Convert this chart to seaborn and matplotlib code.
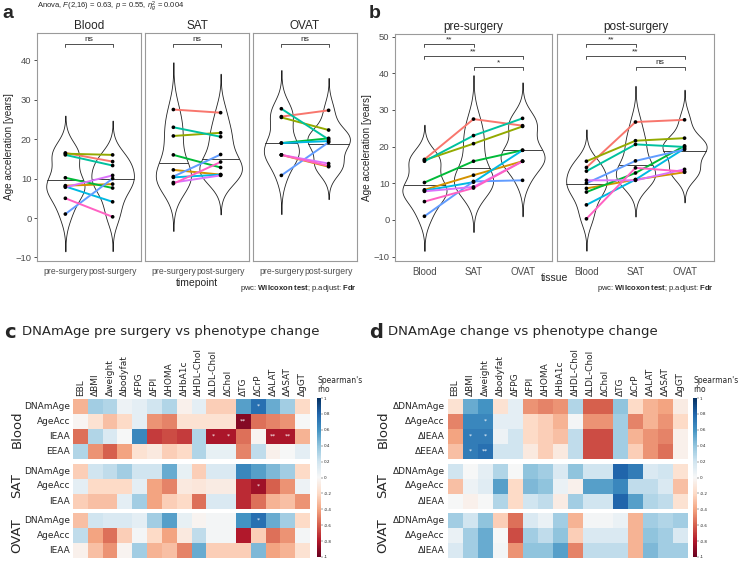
import numpy as np
import pandas as pd
import matplotlib
matplotlib.use("Agg")
import matplotlib.pyplot as plt
import seaborn as sns

W, H = 738, 561

# ---- panel a/b data: 9 subjects, ggplot default hue colours ----
subjects = ["S1", "S2", "S3", "S4", "S5", "S6", "S7", "S8", "S9"]
subject_colors = ["#F8766D", "#D39200", "#93AA00", "#00BA38", "#00C19F",
                  "#00B9E3", "#619CFF", "#DB72FB", "#FF61C3"]
tissues = ["Blood", "SAT", "OVAT"]
timepoints = ["pre-surgery", "post-surgery"]

blood_pre = [16.5, 8.2, 16.3, 10.2, 16.0, 8.0, 1.0, 7.8, 5.0]
blood_post = [14.3, 8.6, 16.0, 7.6, 13.3, 4.1, 10.0, 10.8, 0.3]
sat_pre = [27.5, 12.2, 20.8, 16.0, 23.0, 10.3, 10.5, 9.0, 8.7]
sat_post = [26.7, 11.0, 21.6, 12.8, 20.6, 11.0, 16.1, 10.8, 14.2]
ovat_pre = [25.7, 16.0, 25.5, 19.0, 27.7, 19.0, 10.8, 16.0, 16.0]
ovat_post = [27.3, 13.0, 22.3, 20.2, 19.9, 19.5, 19.2, 13.8, 13.2]

pairs_a = ["ns", "ns", "ns"]
pairs_b_pre = ["**", "**", "*"]
pairs_b_post = ["**", "**", "ns"]

# ---- panel c/d data: spearman rho ----
phenotypes = ["EBL", "ΔBMI", "Δweight", "Δbodyfat", "ΔFPG", "ΔFPI", "ΔHOMA",
              "ΔHbA1c", "ΔHDL-Chol", "ΔLDL-Chol", "ΔChol", "ΔTG", "ΔCrP",
              "ΔALAT", "ΔASAT", "ΔgGT"]
groups = ["Blood", "SAT", "OVAT"]
c_rows = [["DNAmAge", "AgeAcc", "IEAA", "EEAA"],
          ["DNAmAge", "AgeAcc", "IEAA"],
          ["DNAmAge", "AgeAcc", "IEAA"]]
d_rows = [["ΔDNAmAge", "ΔAgeAcc", "ΔIEAA", "ΔEEAA"],
          ["ΔDNAmAge", "ΔAgeAcc", "ΔIEAA"],
          ["ΔDNAmAge", "ΔAgeAcc", "ΔIEAA"]]

c_blood = [
    [-0.35, 0.35, 0.3, 0.05, 0.1, 0.2, 0.3, -0.05, 0.1, -0.25, -0.25, 0.55, 0.75, 0.5, 0.35, -0.2],
    [-0.02, -0.15, -0.3, -0.2, 0.1, -0.45, -0.5, -0.15, -0.15, -0.15, -0.15, -0.92, -0.55, -0.5, -0.45, 0.0],
    [-0.55, 0.3, 0.15, 0.0, 0.65, -0.7, -0.65, -0.7, 0.3, -0.82, -0.82, -0.55, -0.03, -0.82, -0.82, -0.35],
    [0.3, -0.45, -0.6, -0.4, -0.15, -0.1, -0.25, -0.2, 0.3, 0.08, 0.08, -0.5, 0.25, -0.05, 0.0, 0.1],
]
c_sat = [
    [-0.25, 0.2, 0.25, 0.35, 0.2, 0.2, 0.5, 0.08, -0.25, 0.15, 0.15, 0.65, 0.55, 0.45, 0.35, -0.2],
    [0.1, -0.2, -0.2, -0.2, 0.1, -0.4, -0.5, -0.1, -0.12, -0.08, -0.08, -0.75, -0.85, -0.6, -0.45, 0.05],
    [-0.25, -0.3, -0.3, 0.1, 0.35, -0.4, -0.25, -0.2, -0.55, 0.15, 0.15, -0.75, -0.55, -0.35, -0.3, -0.45],
]
c_ovat = [
    [-0.3, 0.2, 0.15, 0.15, 0.1, 0.35, 0.55, 0.08, -0.03, 0.02, 0.02, 0.6, 0.75, 0.5, 0.35, -0.2],
    [0.25, -0.4, -0.55, -0.25, 0.02, -0.2, -0.4, -0.1, 0.25, 0.02, 0.02, -0.8, -0.25, -0.55, -0.45, 0.02],
    [-0.05, -0.3, -0.45, -0.03, 0.35, -0.35, -0.3, -0.5, 0.5, -0.25, -0.25, -0.25, 0.45, -0.4, -0.35, -0.15],
]
d_blood = [
    [-0.15, 0.5, 0.6, -0.15, 0.1, -0.45, -0.5, -0.45, 0.3, -0.6, -0.6, 0.4, -0.2, -0.35, -0.4, -0.08],
    [-0.5, 0.65, 0.65, 0.1, 0.1, -0.2, -0.25, -0.35, 0.02, -0.45, -0.45, 0.35, -0.5, -0.35, -0.45, -0.2],
    [-0.4, 0.7, 0.7, 0.05, 0.2, -0.2, -0.25, -0.3, 0.25, -0.65, -0.65, 0.35, -0.35, -0.45, -0.5, -0.05],
    [-0.3, 0.7, 0.75, 0.2, 0.2, -0.1, -0.25, -0.1, 0.25, -0.65, -0.65, 0.35, -0.25, -0.45, -0.55, -0.05],
]
d_sat = [
    [0.2, 0.0, 0.1, 0.3, 0.0, 0.4, 0.35, 0.15, 0.4, 0.2, 0.2, 0.8, 0.7, 0.15, 0.2, -0.15],
    [-0.3, 0.05, 0.12, 0.55, -0.2, 0.45, 0.4, 0.07, -0.05, 0.55, 0.55, 0.65, 0.25, 0.25, 0.15, -0.3],
    [0.0, -0.05, 0.0, 0.3, -0.2, 0.2, 0.25, -0.08, 0.35, 0.2, 0.2, 0.8, 0.55, 0.3, 0.25, -0.15],
]
d_ovat = [
    [0.35, 0.2, 0.4, -0.25, -0.55, 0.15, 0.07, 0.35, -0.35, 0.02, 0.02, 0.07, -0.35, 0.35, 0.3, 0.35],
    [0.07, 0.35, 0.5, 0.0, -0.65, 0.35, 0.25, 0.4, -0.25, 0.15, 0.15, 0.15, -0.35, 0.4, 0.35, 0.15],
    [0.15, 0.35, 0.5, 0.03, -0.45, 0.4, 0.4, 0.55, -0.5, 0.25, 0.25, 0.25, -0.35, 0.45, 0.35, 0.35],
]
c_stars = [("Blood", "DNAmAge", "ΔCrP", "*"), ("Blood", "AgeAcc", "ΔTG", "**"),
           ("Blood", "IEAA", "ΔLDL-Chol", "*"), ("Blood", "IEAA", "ΔChol", "*"),
           ("Blood", "IEAA", "ΔALAT", "**"), ("Blood", "IEAA", "ΔASAT", "**"),
           ("SAT", "AgeAcc", "ΔCrP", "*"), ("OVAT", "DNAmAge", "ΔCrP", "*")]
d_stars = [("Blood", "ΔAgeAcc", "Δweight", "*"), ("Blood", "ΔIEAA", "ΔBMI", "*"),
           ("Blood", "ΔIEAA", "Δweight", "*"), ("Blood", "ΔEEAA", "ΔBMI", "*"),
           ("Blood", "ΔEEAA", "Δweight", "**")]

sns.set_style("white")
plt.rcParams["font.family"] = ["DejaVu Sans"]
plt.rcParams["mathtext.fontset"] = "custom"
plt.rcParams["mathtext.rm"] = "Liberation Sans"
plt.rcParams["mathtext.it"] = "Liberation Sans:italic"
plt.rcParams["mathtext.bf"] = "Liberation Sans:bold"
GG = "Liberation Sans"
GRAY = "#4D4D4D"


def px_axes(fig, x0, y0, x1, y1):
    return fig.add_axes([x0 / W, 1 - y1 / H, (x1 - x0) / W, (y1 - y0) / H])


def kde_median(vals, adjust):
    vals = np.asarray(vals, float)
    bw = vals.std(ddof=1) * len(vals) ** -0.2 * adjust
    grid = np.linspace(vals.min() - 6 * bw, vals.max() + 6 * bw, 4000)
    dens = np.exp(-((grid[:, None] - vals[None, :]) ** 2) / (2 * bw ** 2)).sum(1)
    cdf = np.cumsum(dens) / dens.sum()
    return np.interp(0.5, cdf, grid)


def draw_violins(ax, d, cat, order):
    sns.violinplot(data=d, x=cat, y="value", order=order, ax=ax, color="white",
                   linecolor="#222222", linewidth=0.6, inner=None, cut=3,
                   bw_adjust=0.9, width=0.9, saturation=1)
    for coll in ax.collections:
        verts = coll.get_paths()[0].vertices
        cx = (verts[:, 0].min() + verts[:, 0].max()) / 2
        lvl = order[int(round(cx))]
        med = kde_median(d.loc[d[cat] == lvl, "value"], 0.9)
        right = verts[verts[:, 0] >= cx]
        right = right[np.argsort(right[:, 1])]
        half = np.interp(med, right[:, 1], right[:, 0]) - cx
        ax.plot([cx - half, cx + half], [med, med], color="#222222", lw=0.6)


def draw_pairs(ax, d):
    sns.lineplot(data=d, x="pos", y="value", hue="subject", palette=dict(zip(subjects, subject_colors)),
                 estimator=None, legend=False, lw=1.4, ax=ax)
    sns.scatterplot(data=d, x="pos", y="value", color="black", s=7, legend=False, ax=ax, zorder=4,
                    edgecolor="none")


def bracket(ax, x1, x2, y, label, tick=0.8):
    ax.plot([x1, x1, x2, x2], [y - tick, y, y, y - tick], color="#333333", lw=0.6)
    ax.text((x1 + x2) / 2, y + 0.2, label, ha="center", va="bottom", fontsize=6, family=GG)


def style_facet(ax, title, first, yticks, xsize):
    for s in ax.spines.values():
        s.set_visible(True)
        s.set_color("#9A9A9A")
        s.set_linewidth(0.8)
    ax.set_title(title, fontsize=8.5, pad=3, family=GG)
    ax.set_xlabel("")
    ax.set_ylabel("")
    ax.tick_params(axis="x", length=2.5, width=0.6, color="#333333", labelsize=xsize,
                   labelcolor=GRAY, pad=2)
    for t in ax.get_xticklabels():
        t.set_family(GG)
    if first:
        ax.set_yticks(yticks)
        ax.tick_params(axis="y", length=2.5, width=0.6, color="#333333", labelsize=6.8,
                       labelcolor=GRAY, pad=1.5, left=True)
        for t in ax.get_yticklabels():
            t.set_family(GG)
        ax.set_ylabel("Age acceleration [years]", fontsize=7.2, family=GG, labelpad=1)
    else:
        ax.tick_params(axis="y", left=False, labelleft=False)


values = {("Blood", "pre-surgery"): blood_pre, ("Blood", "post-surgery"): blood_post,
          ("SAT", "pre-surgery"): sat_pre, ("SAT", "post-surgery"): sat_post,
          ("OVAT", "pre-surgery"): ovat_pre, ("OVAT", "post-surgery"): ovat_post}
rows = []
for (tissue, tp), v in values.items():
    for s, x in zip(subjects, v):
        rows.append((s, tissue, tp, x))
df = pd.DataFrame(rows, columns=["subject", "tissue", "timepoint", "value"])

fig = plt.figure(figsize=(W / 100, H / 100), dpi=100)

# ---- panel a ----
for i, tissue in enumerate(tissues):
    ax = px_axes(fig, 37 + i * 108, 33, 141 + i * 108, 261)
    sub = df[df.tissue == tissue].copy()
    sub["pos"] = sub.timepoint.map({t: k for k, t in enumerate(timepoints)})
    draw_violins(ax, sub, "timepoint", timepoints)
    draw_pairs(ax, sub)
    ax.set_xlim(-0.6, 1.6)
    ax.set_ylim(-10.9, 46.9)
    bracket(ax, 0, 1, 44.1, pairs_a[i])
    style_facet(ax, tissue, i == 0, [-10, 0, 10, 20, 30, 40], 6.2)
    if i == 1:
        ax.set_xlabel("timepoint", fontsize=7.5, family=GG, labelpad=1)

fig.text(37 / W, 1 - 6 / H,
         r"Anova, $\mathit{F}$(2,16) = 0.63, $\mathit{p}$ = 0.55, $\eta^2_g$ = 0.004",
         fontsize=5.5, family=GG, va="center")
fig.text(357 / W, 1 - 288 / H, r"pwc: $\mathbf{Wilcoxon\ test}$; p.adjust: $\mathbf{Fdr}$",
         fontsize=5.5, family=GG, ha="right", va="center")

# ---- panel b ----
for i, tp in enumerate(timepoints):
    ax = px_axes(fig, 395 + i * 162, 34, 552 + i * 162, 261)
    sub = df[df.timepoint == tp].copy()
    sub["pos"] = sub.tissue.map({t: k for k, t in enumerate(tissues)})
    draw_violins(ax, sub, "tissue", tissues)
    draw_pairs(ax, sub)
    ax.set_xlim(-0.6, 2.6)
    ax.set_ylim(-11.2, 50.7)
    labs = pairs_b_pre if i == 0 else pairs_b_post
    bracket(ax, 0, 1, 48.0, labs[0])
    bracket(ax, 0, 2, 44.8, labs[1])
    bracket(ax, 1, 2, 41.8, labs[2])
    style_facet(ax, tp, i == 0, [-10, 0, 10, 20, 30, 40, 50], 7)

fig.text(555 / W, 1 - 278 / H, "tissue", fontsize=7.5, family=GG, ha="center", va="center")
fig.text(714 / W, 1 - 288 / H, r"pwc: $\mathbf{Wilcoxon\ test}$; p.adjust: $\mathbf{Fdr}$",
         fontsize=5.5, family=GG, ha="right", va="center")

fig.text(2 / W, 1 - 14 / H, "a", fontsize=14, fontweight="bold", family=GG, va="center")
fig.text(369 / W, 1 - 14 / H, "b", fontsize=14, fontweight="bold", family=GG, va="center")


# ---- panels c and d ----
def heat_panel(x0, x1, mats, row_sets, stars, cax_x, grp_x):
    tops = [399, 463.5, 513]
    cax = px_axes(fig, cax_x, 398, cax_x + 4, 557)
    for k, (grp, mat, rlabels) in enumerate(zip(groups, mats, row_sets)):
        n = len(rlabels)
        ax = px_axes(fig, x0, tops[k], x1, tops[k] + 15 * n)
        data = pd.DataFrame(mat, index=rlabels, columns=phenotypes)
        annot = pd.DataFrame("", index=rlabels, columns=phenotypes)
        for g, r, c, s in stars:
            if g == grp:
                annot.loc[r, c] = s
        sns.heatmap(data, ax=ax, cmap="RdBu", vmin=-1, vmax=1,
                    cbar=(k == 0), cbar_ax=cax if k == 0 else None,
                    annot=annot, fmt="", annot_kws={"fontsize": 4.5, "color": "white"},
                    xticklabels=(k == 0), yticklabels=True)
        ax.set_yticklabels(rlabels, rotation=0, fontsize=6.5)
        ax.tick_params(length=0, pad=2)
        if k == 0:
            ax.xaxis.tick_top()
            ax.set_xticklabels(phenotypes, rotation=90, fontsize=6.5)
            ax.tick_params(axis="x", length=0, pad=2)
            cb = ax.collections[0].colorbar
            ticks = np.round(np.arange(-1, 1.01, 0.2), 1)
            cb.set_ticks(ticks)
            cb.set_ticklabels(["{:g}".format(t + 0.0) for t in ticks])
            cax.tick_params(labelsize=3, length=1.2, width=0.3, pad=1)
            cb.outline.set_linewidth(0)
        ycen = tops[k] + 7.5 * n
        fig.text(grp_x / W, 1 - ycen / H, grp, rotation=90,
                 fontsize=9.5, ha="center", va="center")
    fig.text(cax_x / W, 1 - 376 / H, "Spearman's\nrho", fontsize=5.5, va="top", ha="left",
             linespacing=1.05)


heat_panel(73, 310, [c_blood, c_sat, c_ovat], c_rows, c_stars, 317, 17)
heat_panel(447.5, 688, [d_blood, d_sat, d_ovat], d_rows, d_stars, 693, 383)

fig.text(22 / W, 1 - 332 / H, "DNAmAge pre surgery vs phenotype change", fontsize=9.5, va="center")
fig.text(388 / W, 1 - 332 / H, "DNAmAge change vs phenotype change", fontsize=9.5, va="center")
fig.text(4 / W, 1 - 332 / H, "c", fontsize=14, fontweight="bold", va="center")
fig.text(369 / W, 1 - 332 / H, "d", fontsize=14, fontweight="bold", va="center")

fig.savefig("out.png", dpi=100)
